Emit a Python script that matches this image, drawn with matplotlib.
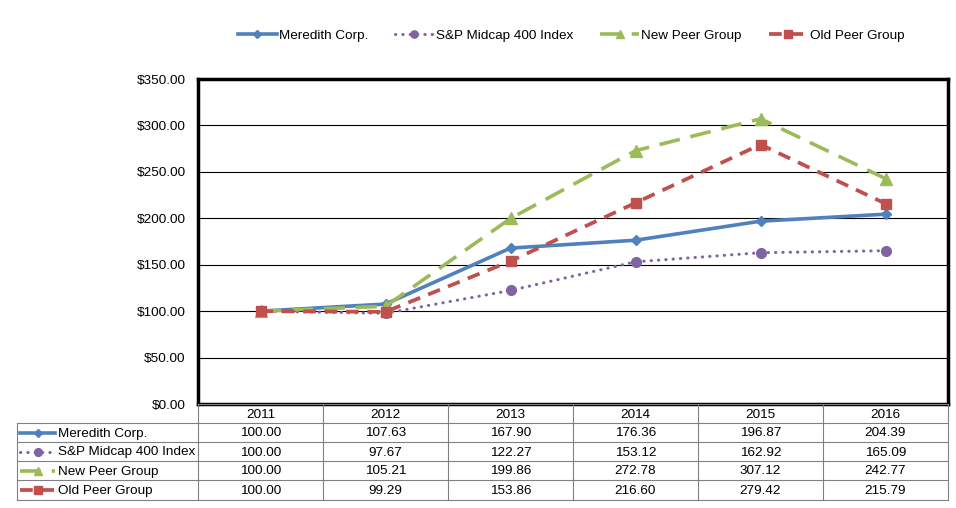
import matplotlib
matplotlib.use("Agg")
import matplotlib.pyplot as plt
from matplotlib.lines import Line2D

plt.rcParams['font.family'] = ['Liberation Sans', 'DejaVu Sans']

anos = ["2011", "2012", "2013", "2014", "2015", "2016"]
series = ["Meredith Corp.", "S&P Midcap 400 Index", "New Peer Group", "Old Peer Group"]
meredith = [100.00, 107.63, 167.90, 176.36, 196.87, 204.39]
midcap = [100.00, 97.67, 122.27, 153.12, 162.92, 165.09]
novo_peer = [100.00, 105.21, 199.86, 272.78, 307.12, 242.77]
velho_peer = [100.00, 99.29, 153.86, 216.60, 279.42, 215.79]
valores = [meredith, midcap, novo_peer, velho_peer]
yticks = [0, 50, 100, 150, 200, 250, 300, 350]

estilos = [
    dict(color="#4F81BD", lw=2.6, ls="-", marker="D", ms=5),
    dict(color="#8064A2", lw=2.2, ls=(0, (0.1, 2.3)), marker="o", ms=7, dash_capstyle="round"),
    dict(color="#9BBB59", lw=2.6, ls=(0, (5.8, 3.0)), marker="^", ms=8),
    dict(color="#C0504D", lw=2.7, ls=(0, (3.4, 2.3)), marker="s", ms=7),
]
fs = 9.7

W, H = 956, 508
fig = plt.figure(figsize=(W / 100, H / 100), dpi=100)

x0, x1, ytop, ybot = 198, 948, 79, 404
ax = fig.add_axes([x0 / W, 1 - ybot / H, (x1 - x0) / W, (ybot - ytop) / H])
xs = list(range(len(anos)))
handles = []
for vals, nome, st in zip(valores, series, estilos):
    ln, = ax.plot(xs, vals, label=nome, mec=st["color"], mfc=st["color"], zorder=3, **st)
    handles.append(ln)

ax.set_xlim(-0.5, len(anos) - 0.5)
ax.set_ylim(0, 350)
ax.set_yticks(yticks)
ax.set_yticklabels(["${:.2f}".format(v) for v in yticks], fontsize=fs)
ax.tick_params(axis="y", length=0, pad=9)
ax.set_xticks([])
ax.grid(axis="y", color="black", lw=0.8)
ax.set_axisbelow(True)
for s in ax.spines.values():
    s.set_linewidth(2.5)
    s.set_color("black")

fig.legend(handles=handles, loc="center", bbox_to_anchor=(571 / W, 1 - 36 / H), ncol=4,
           frameon=False, fontsize=fs, handlelength=2.9, columnspacing=2.0,
           handletextpad=0.15, borderpad=0.2, markerscale=0.75)

# tabela de dados abaixo do grafico
tab = fig.add_axes([0, 0, 1, 1])
tab.set_xlim(0, W)
tab.set_ylim(H, 0)
tab.axis("off")
grid_c = "#808080"
col_w = (x1 - x0) / len(anos)
tl = 17
linhas_y = [404, 423, 442, 461, 480, 500]

# linhas horizontais
tab.plot([x0, x1], [linhas_y[0], linhas_y[0]], color=grid_c, lw=0.8)
for yy in linhas_y[1:]:
    tab.plot([tl, x1], [yy, yy], color=grid_c, lw=0.8)
# linhas verticais
tab.plot([tl, tl], [linhas_y[1], linhas_y[-1]], color=grid_c, lw=0.8)
for i in range(len(anos) + 1):
    xx = x0 + i * col_w
    tab.plot([xx, xx], [linhas_y[0], linhas_y[-1]], color=grid_c, lw=0.8)

for i, a in enumerate(anos):
    tab.text(x0 + (i + 0.5) * col_w, (linhas_y[0] + linhas_y[1]) / 2 + 1, a,
             ha="center", va="center", fontsize=fs)

for r, (vals, nome, st) in enumerate(zip(valores, series, estilos)):
    yc = (linhas_y[r + 1] + linhas_y[r + 2]) / 2
    st2 = dict(st)
    st2["ms"] = st["ms"] * 0.8
    tab.add_line(Line2D([20, 38, 55], [yc, yc, yc], mec=st["color"], mfc=st["color"],
                        markevery=[1], **st2))
    tab.text(58, yc + 1, nome, ha="left", va="center", fontsize=fs)
    for i, v in enumerate(vals):
        tab.text(x0 + (i + 0.5) * col_w, yc + 1, "{:.2f}".format(v),
                 ha="center", va="center", fontsize=fs)

fig.savefig("out.png", dpi=100)
